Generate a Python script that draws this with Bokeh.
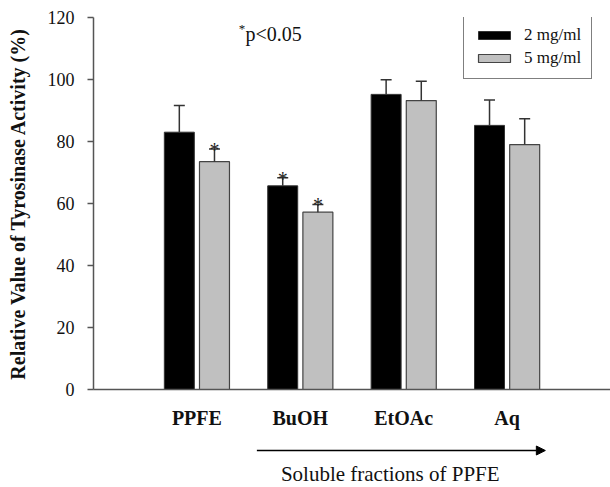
from bokeh.plotting import figure
from bokeh.layouts import column
from bokeh.models import (ColumnDataSource, FixedTicker, Label, Arrow, NormalHead,
                          Legend, LegendItem)
from bokeh.core.properties import value
from bokeh.embed import file_html
from bokeh.resources import INLINE

# ---- data ----
categories = ["PPFE", "BuOH", "EtOAc", "Aq"]
positions = [1, 2, 3, 4]
vals_2mg = [83.0, 65.7, 95.2, 85.2]
err_2mg = [91.6, 68.3, 99.9, 93.4]
sig_2mg = ["", "*", "", ""]
vals_5mg = [73.5, 57.2, 93.2, 79.0]
err_5mg = [77.6, 59.7, 99.4, 87.3]
sig_5mg = ["*", "*", "", ""]
y_ticks = [0, 20, 40, 60, 80, 100, 120]

SERIF = "Liberation Serif"
offset = 0.17
bw = 0.29

x2 = [p - offset for p in positions]
x5 = [p + offset for p in positions]
src2 = ColumnDataSource(dict(x=x2, top=vals_2mg, err=err_2mg, sig=sig_2mg))
src5 = ColumnDataSource(dict(x=x5, top=vals_5mg, err=err_5mg, sig=sig_5mg))

TOP_H = 431
p = figure(width=610, height=TOP_H, x_range=(0, 5), y_range=(0, 120),
           output_backend="svg", toolbar_location=None,
           min_border_left=93, min_border_right=0, min_border_top=17,
           min_border_bottom=42)
p.outline_line_color = None
p.xgrid.visible = False
p.ygrid.visible = False
p.background_fill_color = "white"
p.border_fill_color = "white"

r2 = p.vbar(x="x", top="top", width=bw, source=src2, fill_color="black",
            line_color="#333333", line_width=1)
r5 = p.vbar(x="x", top="top", width=bw, source=src5, fill_color="#c0c0c0",
            line_color="#444444", line_width=1.2)

for src in (src2, src5):
    p.segment(x0="x", y0="top", x1="x", y1="err", source=src,
              line_color="#333333", line_width=1.5)
    p.dash(x="x", y="err", size=11, source=src, line_color="#333333",
           line_width=1.5)
    p.text(x="x", y="err", text="sig", source=src, text_align="center",
           text_baseline="middle", text_font=value(SERIF), text_font_size="20px",
           text_color="#222222", y_offset=1)

# axes
p.yaxis.ticker = FixedTicker(ticks=y_ticks)
p.yaxis.axis_line_color = "#555555"
p.yaxis.axis_line_width = 1.5
p.yaxis.major_tick_line_color = "#555555"
p.yaxis.major_tick_line_width = 1.5
p.yaxis.major_tick_out = 6
p.yaxis.major_tick_in = 0
p.yaxis.minor_tick_line_color = None
p.yaxis.major_label_standoff = 13
p.yaxis.major_label_text_font = SERIF
p.yaxis.major_label_text_font_size = "18px"
p.yaxis.major_label_text_color = "#111111"
p.yaxis.axis_label = "Relative Value of Tyrosinase Activity (%)"
p.yaxis.axis_label_text_font = SERIF
p.yaxis.axis_label_text_font_style = "bold"
p.yaxis.axis_label_text_font_size = "20px"
p.yaxis.axis_label_text_color = "#111111"
p.yaxis.axis_label_standoff = 16

p.xaxis.ticker = FixedTicker(ticks=positions)
p.xaxis.major_label_overrides = {pos: c for pos, c in zip(positions, categories)}
p.xaxis.axis_line_color = "#555555"
p.xaxis.axis_line_width = 1.5
p.xaxis.major_tick_line_color = None
p.xaxis.minor_tick_line_color = None
p.xaxis.major_label_standoff = 11
p.xaxis.major_label_text_font = SERIF
p.xaxis.major_label_text_font_style = "bold"
p.xaxis.major_label_text_font_size = "20px"
p.xaxis.major_label_text_color = "#111111"

# p-value note
p.add_layout(Label(x=1.435, y=116.5, text="*", text_align="center",
                   text_baseline="middle", text_font=SERIF,
                   text_font_size="13px", text_color="#111111"))
p.add_layout(Label(x=1.47, y=114.8, text="p<0.05", text_align="left",
                   text_baseline="middle", text_font=SERIF,
                   text_font_size="20px", text_color="#111111"))

legend = Legend(items=[LegendItem(label="2 mg/ml", renderers=[r2]),
                       LegendItem(label="5 mg/ml", renderers=[r5])],
                location=(370, 310))
legend.border_line_color = "black"
legend.border_line_width = 1
legend.background_fill_color = "white"
legend.label_text_font = SERIF
legend.label_text_font_size = "17px"
legend.label_text_color = "#111111"
legend.label_height = 18
legend.glyph_width = 40
legend.glyph_height = 10
legend.label_standoff = 10
legend.padding = 10
legend.spacing = 3
legend.margin = 0
p.add_layout(legend)

# lower strip: arrow and caption (y measured downward in pixels)
BOT_H = 487 - TOP_H
q = figure(width=610, height=BOT_H, x_range=p.x_range, y_range=(BOT_H, 0),
           output_backend="svg", toolbar_location=None,
           min_border_left=93, min_border_right=0, min_border_top=0,
           min_border_bottom=0)
q.axis.visible = False
q.xgrid.visible = False
q.ygrid.visible = False
q.outline_line_color = None
q.background_fill_color = "white"
q.border_fill_color = "white"
q.add_layout(Arrow(x_start=1.58, y_start=450 - TOP_H, x_end=4.37, y_end=450 - TOP_H,
                   line_color="black", line_width=1.5,
                   end=NormalHead(size=9, fill_color="black", line_color="black")))
q.add_layout(Label(x=2.87, y=473 - TOP_H, text="Soluble fractions of PPFE",
                   text_align="center", text_baseline="middle",
                   text_font=SERIF, text_font_size="21px", text_color="#111111"))

open("out.html", "w").write(file_html(column(p, q), INLINE))
